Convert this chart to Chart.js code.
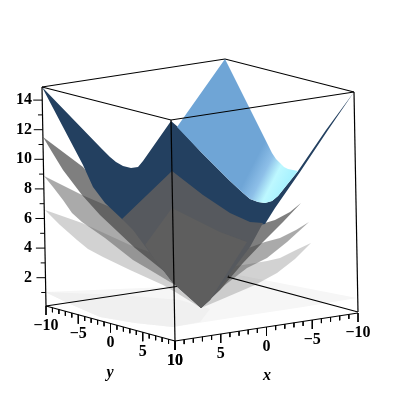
<!DOCTYPE html>
<html>
<head>
<meta charset="utf-8">
<script src="https://cdn.jsdelivr.net/npm/chart.js@4"></script>
<style>
  html, body { margin: 0; padding: 0; background: #fff; }
  canvas { display: block; }
</style>
</head>
<body>
<canvas id="myChart" width="400" height="400"></canvas>
<script>
// tick values of the three axes
const zMajor = [2, 4, 6, 8, 10, 12, 14];
const zAll = [1, 2, 3, 4, 5, 6, 7, 8, 9, 10, 11, 12, 13, 14];
const xyAll = [-10, -9, -8, -7, -6, -5, -4, -3, -2, -1, 0, 1, 2, 3, 4, 5, 6, 7, 8, 9, 10];
const xyMajor = [-10, -5, 0, 5, 10];

// box corners
const boxTopBack = [[42, 87], [225, 59], [354, 92]];
const boxTopFront = [[42, 87], [171, 120], [354, 92]];
const boxBackFloor = [[46, 306], [180, 286]];
const boxBackFloor2 = [[358, 312], [228, 277], [228, 272]];
const boxLeft = [[42, 87], [46, 306]];
const boxFront = [[171, 120], [175, 341]];
const boxRight = [[354, 92], [358, 312]];
const axisY = [[46, 306], [175, 341]];
const axisX = [[358, 313], [175, 341]];

// surfaces as seen in the picture plane
const floorBack = [[45, 292], [167, 287], [228, 273], [357, 298], [303, 307], [237, 317], [173, 327], [135, 323], [100, 317], [70, 304]];
const floorFront = [[45, 292], [70, 304], [100, 317], [135, 323], [173, 327], [200, 322], [210, 309], [180, 300], [120, 295]];
const sheetD = [[45, 210], [82, 223], [130, 245], [200, 270], [243, 265], [267, 261], [280, 258], [296, 250], [311, 243],
  [295, 259], [277, 273], [255, 285], [220, 300], [201, 308], [177, 293], [163, 285], [130, 270], [103, 257], [88, 249], [77, 240], [60, 225]];
const sheetC = [[44, 176], [82, 195], [110, 207], [150, 235], [200, 255], [243, 250], [265, 242], [280, 238], [296, 230], [309, 222],
  [298, 232], [287, 242], [267, 258], [247, 268], [225, 285], [201, 308], [175, 285], [150, 270], [133, 260], [105, 238], [82, 222], [72, 213], [63, 200], [53, 187]];
const sheetB = [[43, 137], [83, 167], [110, 200], [150, 230], [200, 240], [265, 223], [275, 220], [290, 212], [301, 203],
  [283, 222], [263, 242], [243, 263], [220, 290], [201, 308], [165, 272], [135, 248], [100, 215], [82, 195], [63, 170], [52, 152]];
const blueDark = [[42, 87], [100, 147], [110, 157], [116, 162], [123, 166], [131, 168], [138, 167], [143, 161], [171, 121], [178, 127],
  [200, 151], [215, 166], [230, 181], [243, 193], [250, 199], [258, 202], [265, 203], [272, 201], [278, 196], [298, 171], [326, 130], [354, 92],
  [328, 130], [300, 172], [275, 208], [265, 224], [172, 240], [122, 219], [105, 203], [93, 187], [83, 165], [63, 127]];
const blueLight = [[225, 59], [272, 153], [276, 159], [280, 163], [284, 167], [288, 169], [298, 171], [278, 196], [272, 201], [265, 203],
  [258, 202], [250, 199], [243, 193], [230, 181], [215, 166], [200, 151], [177, 127]];
const frontUpper = [[172, 171], [203, 195], [230, 213], [250, 222], [263, 223], [250, 247], [210, 300], [201, 308],
  [173, 283], [153, 257], [133, 230], [122, 219]];
const frontLower = [[172, 208], [190, 217], [220, 232], [247, 242], [210, 300], [201, 308], [173, 283], [153, 257], [145, 245]];

const canvas = document.getElementById('myChart');
const ctx = canvas.getContext('2d');

const sheen = ctx.createLinearGradient(250, 170, 285, 188);
sheen.addColorStop(0, '#6fa5d6');
sheen.addColorStop(0.35, '#8dbfe8');
sheen.addColorStop(0.65, '#bdf8ff');
sheen.addColorStop(1, '#a8f2ff');

const pts = (list) => list.map(p => ({ x: p[0], y: p[1] }));
const poly = (list, color) => ({
  data: pts(list.concat([list[0]])), yAxisID: 'py', backgroundColor: color, fill: 'shape',
  borderWidth: 0, pointRadius: 0, tension: 0
});
const line = (list, width) => ({
  data: pts(list), yAxisID: 'py', borderColor: '#000', borderWidth: width || 1.2, pointRadius: 0, fill: false, tension: 0
});

// place a tick value along an axis drawn between two picture points
const along = (seg, v) => {
  const t = (v + 10) / 20;
  return [seg[0][0] + (seg[1][0] - seg[0][0]) * t, seg[0][1] + (seg[1][1] - seg[0][1]) * t];
};
const floorTicks = (seg) => {
  const out = [];
  xyAll.forEach(v => {
    const p = along(seg, v);
    const len = xyMajor.includes(v) ? 9 : 4.5;
    out.push({ x: p[0], y: p[1] }, { x: p[0], y: p[1] + len }, { x: p[0], y: null });
  });
  return out;
};
const zTicks = [];
zAll.forEach(v => {
  const right = 46 - v * 0.27;
  zTicks.push({ x: right, y: v }, { x: right - (v % 2 === 0 ? 9 : 4.5), y: v }, { x: right, y: null });
});

// bottom layer first, reversed below because Chart.js paints index 0 last
const layers = [
  poly(floorBack, '#f6f6f6'),
  poly(floorFront, '#f0f0f0'),
  poly(sheetD, 'rgba(105,105,105,0.3)'),
  poly(sheetC, 'rgba(94,94,94,0.53)'),
  poly(sheetB, 'rgba(64,64,64,0.67)'),
  line(boxTopBack),
  line(boxBackFloor),
  line(boxBackFloor2),
  poly(blueDark, '#234060'),
  poly(blueLight, sheen),
  poly(frontUpper, '#56595e'),
  poly(frontLower, '#5e5e5e'),
  line(boxLeft),
  line(boxRight),
  line(boxTopFront),
  line(boxFront),
  line(axisY),
  line(axisX),
  { data: floorTicks(axisY), yAxisID: 'py', borderColor: '#000', borderWidth: 1, pointRadius: 0, fill: false },
  { data: floorTicks(axisX), yAxisID: 'py', borderColor: '#000', borderWidth: 1, pointRadius: 0, fill: false },
  { data: zTicks, yAxisID: 'z', borderColor: '#000', borderWidth: 1, pointRadius: 0, fill: false }
];

// oblique floor axes have no library axis, so their labels go on here
const floorLabels = {
  id: 'floorLabels',
  afterDraw(chart) {
    const c = chart.ctx;
    const sx = chart.scales.x, sy = chart.scales.py;
    c.save();
    c.fillStyle = '#000';
    c.textAlign = 'center';
    c.textBaseline = 'middle';
    c.font = 'bold 16px "Liberation Serif"';
    [axisY, axisX].forEach(seg => {
      xyMajor.forEach(v => {
        const p = along(seg, v);
        c.fillText(String(v).replace('-', '\u2212'), sx.getPixelForValue(p[0]), sy.getPixelForValue(p[1] + 19.5));
      });
    });
    c.font = 'italic bold 16px "Liberation Serif"';
    c.fillText('y', sx.getPixelForValue(110), sy.getPixelForValue(373));
    c.fillText('x', sx.getPixelForValue(267), sy.getPixelForValue(376));
    c.restore();
  }
};

new Chart(ctx, {
  type: 'line',
  data: { datasets: layers.reverse() },
  plugins: [floorLabels],
  options: {
    responsive: false,
    animation: false,
    layout: { padding: 0 },
    plugins: { legend: { display: false }, tooltip: { enabled: false } },
    scales: {
      x: { type: 'linear', min: 0, max: 400, display: false },
      py: { type: 'linear', min: 0, max: 400, reverse: true, display: false },
      z: {
        type: 'linear',
        min: -6.264,
        max: 20.764,
        position: { x: 32 },
        border: { display: false },
        grid: { display: false, drawTicks: false },
        afterBuildTicks: (scale) => { scale.ticks = zMajor.map(v => ({ value: v })); },
        afterFit: (scale) => { scale.paddingTop = 0; scale.paddingBottom = 0; },
        ticks: {
          padding: 0,
          color: '#000',
          autoSkip: false,
          font: { family: '"Liberation Serif"', weight: 'bold', size: 16 }
        }
      }
    }
  }
});
</script>
</body>
</html>
